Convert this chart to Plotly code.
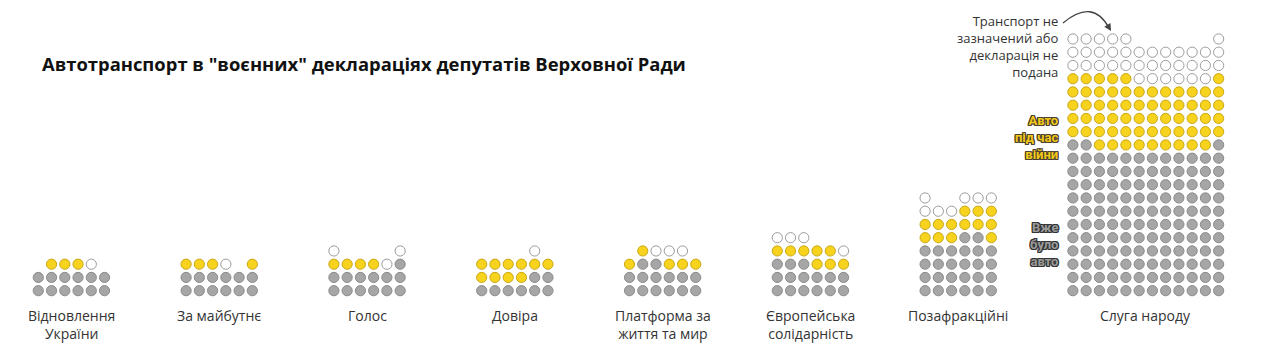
import plotly.graph_objects as go

# ---------------- data ----------------
title = 'Автотранспорт в "воєнних" деклараціях депутатів Верховної Ради'

parties = [
    "Відновлення<br>України",
    "За майбутнє",
    "Голос",
    "Довіра",
    "Платформа за<br>життя та мир",
    "Європейська<br>солідарність",
    "Позафракційні",
    "Слуга народу",
]

# G = авто вже було, Y = авто придбане під час війни,
# W = транспорт не зазначений або декларація не подана, "." = empty slot
grid_vidnovlennia = [
    ".YYYW.",
    "GGGGGG",
    "GGGGGG",
]
grid_za_maibutnie = [
    "YYYW.Y",
    "GGGGGG",
    "GGGGGG",
]
grid_holos = [
    "W....W",
    "YYYYWG",
    "GGGGGG",
    "GGGGGG",
]
grid_dovira = [
    "....W.",
    "YYYYYY",
    "YYYYGG",
    "GGGGGG",
]
grid_platforma = [
    ".YWWW.",
    "YGGYYY",
    "GGGGGG",
    "GGGGGG",
]
grid_es = [
    "WWW...",
    "YYYYYW",
    "GGGYYY",
    "GGGGGG",
    "GGGGGG",
]
grid_pozafraktsiini = [
    "W..WWW",
    "WWWYYY",
    "YYYYYY",
    "YYYGGY",
    "GGGGGG",
    "GGGGGG",
    "GGGGGG",
    "GGGGGG",
]
grid_sluha = (
    ["WWWWW......W"]
    + ["WWWWWWWWWWWW"] * 2
    + ["YYYYYWWWWWWY"]
    + ["YYYYYYYYYYYY"] * 4
    + ["GGYYYYYYYYYG"]
    + ["GGGGGGGGGGGG"] * 11
)

grids = [grid_vidnovlennia, grid_za_maibutnie, grid_holos, grid_dovira,
         grid_platforma, grid_es, grid_pozafraktsiini, grid_sluha]

categories = ["G", "Y", "W"]
cat_names = ["Вже було авто", "Авто під час війни",
             "Транспорт не зазначений або декларація не подана"]

note_missing = "Транспорт не<br>зазначений або<br>декларація не<br>подана"
note_war = "Авто<br>під час<br>війни"
note_before = "Вже<br>було<br>авто"

# ---------------- styling / layout constants ----------------
W, H = 1280, 354
first_group_x = 38.3
group_step = 147.8
pitch = 13.25
bottom_y = 290.7
dot_size = 10.2
LINE = 1.3  # plotly line spacing (em)

fill = {"G": "#a6a6a6", "Y": "#f7d31e", "W": "#ffffff"}
edge = {"G": "#8a8a8a", "Y": "#c9a817", "W": "#9c9c9c"}

# ---------------- build dots ----------------
pts = {c: ([], [], []) for c in categories}
for gi, (party, grid) in enumerate(zip(parties, grids)):
    x0 = first_group_x + gi * group_step
    nrows = len(grid)
    for ri, row in enumerate(grid):
        level = nrows - 1 - ri  # 0 = bottom row
        for ci, ch in enumerate(row):
            if ch in pts:
                pts[ch][0].append(x0 + ci * pitch)
                pts[ch][1].append(bottom_y - level * pitch)
                pts[ch][2].append(party.replace("<br>", " "))

fig = go.Figure()
for c, name in zip(categories, cat_names):
    xs, ys, txt = pts[c]
    fig.add_trace(go.Scatter(
        x=xs, y=ys, mode="markers", name=name, text=txt,
        hovertemplate="%{text}<extra>" + name + "</extra>",
        marker=dict(size=dot_size, color=fill[c],
                    line=dict(color=edge[c], width=1)),
    ))


def block_center(first_line_y, text, size):
    n = text.count("<br>") + 1
    return first_line_y + (n - 1) * size * LINE / 2


annotations = []

# title
annotations.append(dict(
    x=40, y=63, xref="x", yref="y", text="<b>" + title + "</b>",
    showarrow=False, xanchor="left", yanchor="middle",
    font=dict(family="Open Sans", size=18.4, color="#111111"),
))

# party labels
label_size = 14
for gi, (party, grid) in enumerate(zip(parties, grids)):
    ncols = max(len(r) for r in grid)
    cx = first_group_x + gi * group_step + (ncols - 1) * pitch / 2
    annotations.append(dict(
        x=cx, y=block_center(315, party, label_size), xref="x", yref="y",
        text=party, showarrow=False, xanchor="center", yanchor="middle",
        align="center",
        font=dict(family="Open Sans", size=label_size, color="#333333"),
    ))

# side notes for the big group
note_x = 1061
ns = 13
annotations.append(dict(
    x=note_x, y=block_center(21, note_missing, ns), xref="x", yref="y",
    text=note_missing, showarrow=False, xanchor="right", yanchor="middle",
    align="right",
    font=dict(family="Open Sans", size=ns, color="#333333"),
))

outline_dark = ("-1px -1px 0 #4a4030, 1px -1px 0 #4a4030, -1px 1px 0 #4a4030, "
                "1px 1px 0 #4a4030, 0 1px 0 #4a4030, 0 -1px 0 #4a4030, "
                "1px 0 0 #4a4030, -1px 0 0 #4a4030")
outline_gray = ("-1px -1px 0 #333, 1px -1px 0 #333, -1px 1px 0 #333, "
                "1px 1px 0 #333, 0 1px 0 #333, 0 -1px 0 #333, "
                "1px 0 0 #333, -1px 0 0 #333")

bs = 13
annotations.append(dict(
    x=note_x - 1, y=block_center(121, note_war, bs), xref="x", yref="y",
    text="<b>" + note_war + "</b>", showarrow=False,
    xanchor="right", yanchor="middle", align="right",
    font=dict(family="Roboto", size=bs, color="#f2c919", shadow=outline_dark),
))
annotations.append(dict(
    x=note_x - 1, y=block_center(228, note_before, bs), xref="x", yref="y",
    text="<b>" + note_before + "</b>", showarrow=False,
    xanchor="right", yanchor="middle", align="right",
    font=dict(family="Roboto", size=bs, color="#9a9a9a", shadow=outline_gray),
))

# arrowhead at the end of the curved arrow
annotations.append(dict(
    x=1111, y=31, xref="x", yref="y", ax=1107.5, ay=25, axref="x", ayref="y",
    text="", showarrow=True, arrowhead=2, arrowsize=1.1, arrowwidth=1.3,
    arrowcolor="#444444",
))

fig.add_shape(type="path", path="M 1063 23 Q 1093 -2 1109 28",
              xref="x", yref="y", line=dict(color="#444444", width=1.3))

fig.update_layout(
    width=W, height=H,
    margin=dict(l=0, r=0, t=0, b=0),
    paper_bgcolor="white", plot_bgcolor="white",
    showlegend=False,
    xaxis=dict(range=[0, W], visible=False, fixedrange=True),
    yaxis=dict(range=[H, 0], visible=False, fixedrange=True),
    annotations=annotations,
    hoverlabel=dict(font=dict(family="Open Sans")),
)

fig.write_html("out.html")
